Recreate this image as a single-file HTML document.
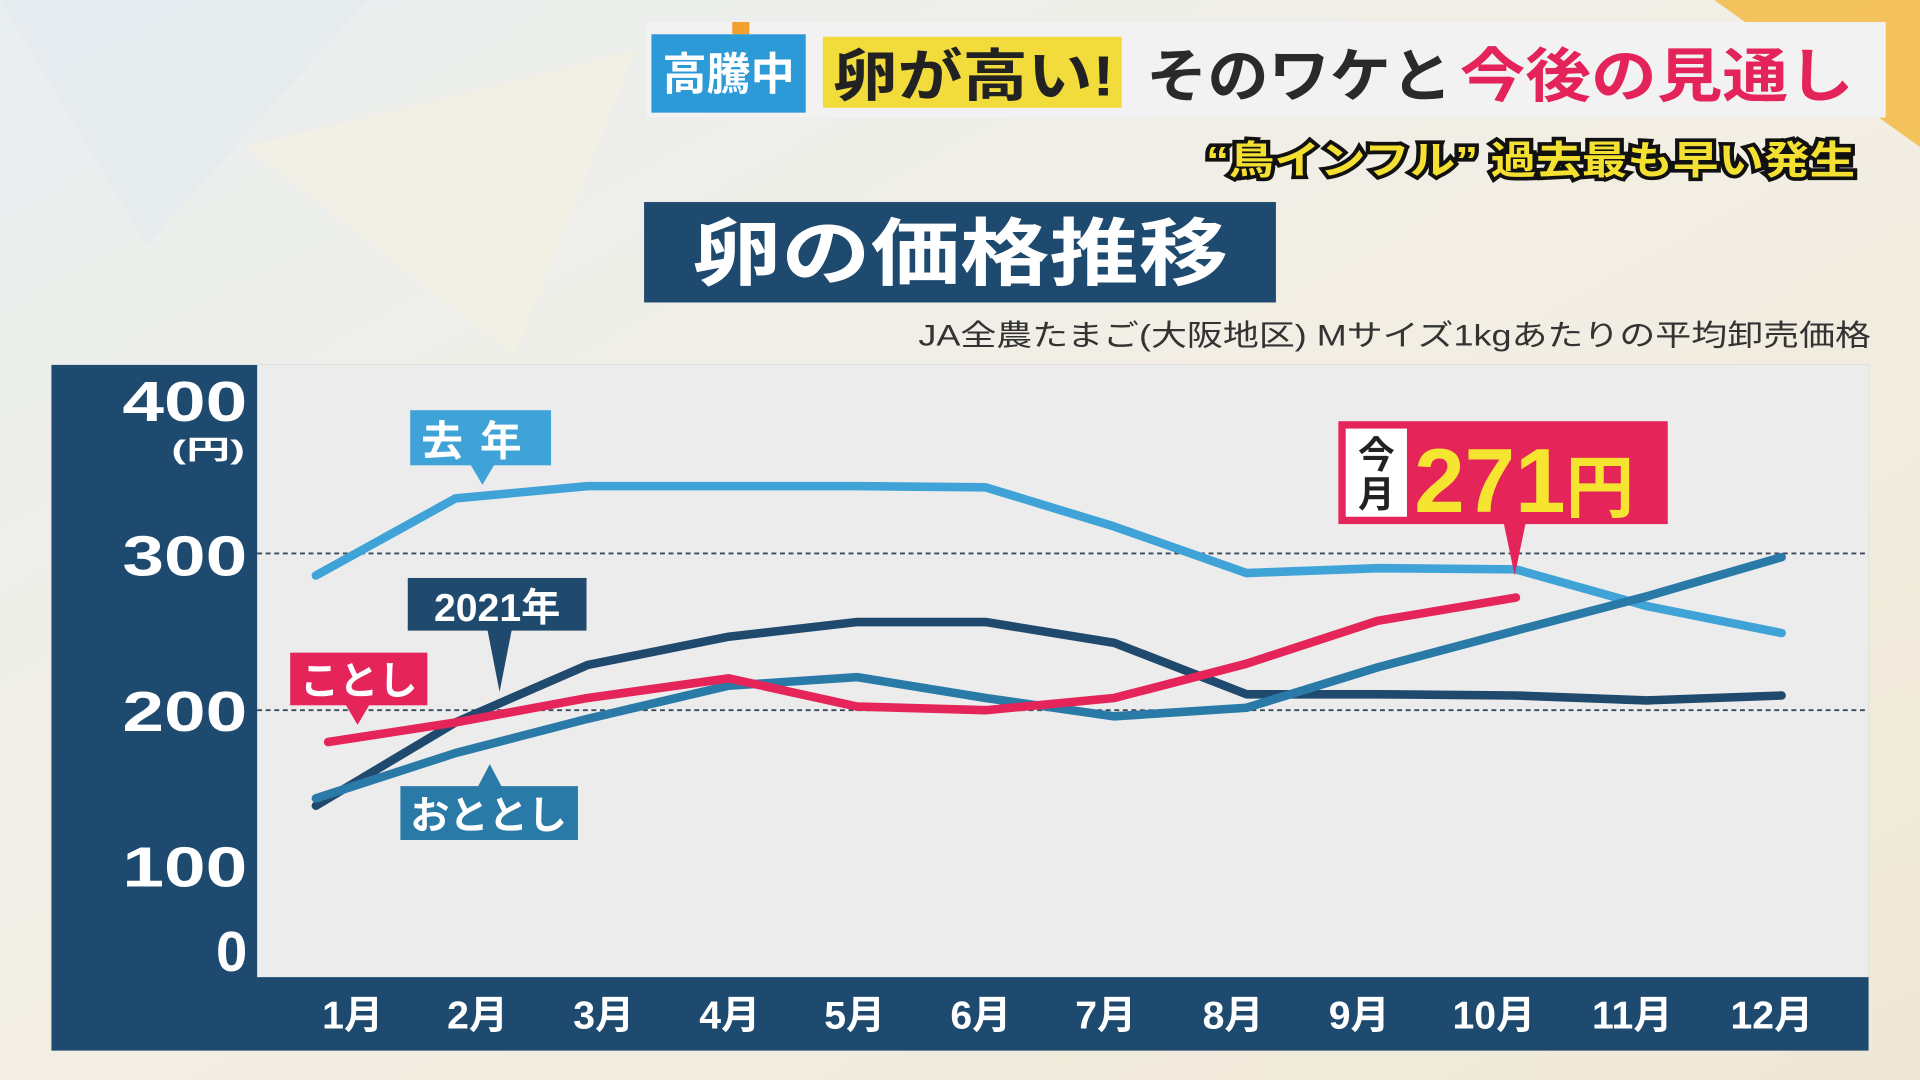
<!DOCTYPE html>
<html><head><meta charset="utf-8"><style>
html,body{margin:0;padding:0;width:1920px;height:1080px;overflow:hidden;background:#efebe2}
svg{display:block}
text{font-family:"Liberation Sans","Noto Sans CJK JP",sans-serif;font-weight:bold}
</style></head><body>
<svg width="1920" height="1080" viewBox="0 0 1568 882" xmlns="http://www.w3.org/2000/svg">
<defs>
<linearGradient id="bg" x1="0" y1="0" x2="1" y2="1">
<stop offset="0" stop-color="#e9eef0"/><stop offset="0.5" stop-color="#f2eee4"/><stop offset="1" stop-color="#f0e8d6"/>
</linearGradient>
</defs>
<rect width="1568" height="882" fill="url(#bg)"/>
<polygon points="0,0 300,0 120,200" fill="#e3eaee" opacity="0.6"/>
<polygon points="200,120 520,40 420,290" fill="#f4efe2" opacity="0.7"/>
<polygon points="1400,0 1568,0 1568,120" fill="#f3b63a" opacity="0.8"/>
<rect x="528" y="18" width="1012" height="78" fill="#f2f2f2"/>
<rect x="598" y="18" width="14" height="10" fill="#f2a030"/>
<rect x="532" y="28" width="126" height="64" fill="#2d9ad8"/>
<text x="595" y="73" font-size="36" fill="#fff" text-anchor="middle">高騰中</text>
<rect x="672" y="30" width="244" height="58" fill="#f2dc3c"/>
<text x="680" y="78" font-size="46" fill="#222" textLength="230" lengthAdjust="spacingAndGlyphs">卵が高い!</text>
<text x="936" y="79" font-size="48" fill="#2a2a2a" textLength="250" lengthAdjust="spacingAndGlyphs">そのワケと</text>
<text x="1192" y="79" font-size="48" fill="#e3235a" textLength="322" lengthAdjust="spacingAndGlyphs">今後の見通し</text>
<text x="985" y="142" font-size="32" fill="#f4e030" stroke="#111" stroke-width="6" paint-order="stroke" textLength="530" lengthAdjust="spacingAndGlyphs">“鳥インフル” 過去最も早い発生</text>
<rect x="526" y="165" width="516" height="82" fill="#1d4a6e"/>
<text x="565" y="228" font-size="60" fill="#fff" textLength="438" lengthAdjust="spacingAndGlyphs">卵の価格推移</text>
<text x="750" y="282" font-size="24" fill="#333" style="font-weight:normal" textLength="778" lengthAdjust="spacingAndGlyphs">JA全農たまご(大阪地区) Mサイズ1kgあたりの平均卸売価格</text>
<rect x="42" y="298" width="1484" height="560" fill="#1d4a6e"/>
<rect x="210" y="298" width="1316" height="500" fill="#ececec"/>
<line x1="210" y1="452" x2="1526" y2="452" stroke="#3a4a5a" stroke-width="1.5" stroke-dasharray="4,3"/>
<line x1="210" y1="580" x2="1526" y2="580" stroke="#3a4a5a" stroke-width="1.5" stroke-dasharray="4,3"/>
<g fill="#fff" font-size="46">
<text x="100" y="344" textLength="102" lengthAdjust="spacingAndGlyphs">400</text>
<text x="140" y="375" font-size="22" textLength="60" lengthAdjust="spacingAndGlyphs">(円)</text>
<text x="100" y="470" textLength="102" lengthAdjust="spacingAndGlyphs">300</text>
<text x="100" y="597" textLength="102" lengthAdjust="spacingAndGlyphs">200</text>
<text x="100" y="724" textLength="102" lengthAdjust="spacingAndGlyphs">100</text>
<text x="202" y="793" text-anchor="end">0</text>
</g>
<g fill="#fff" font-size="32" text-anchor="middle">
<text x="288" y="840">1月</text><text x="390" y="840">2月</text><text x="493" y="840">3月</text><text x="596" y="840">4月</text><text x="698" y="840">5月</text><text x="801" y="840">6月</text><text x="903" y="840">7月</text><text x="1007" y="840">8月</text><text x="1110" y="840">9月</text><text x="1220" y="840">10月</text><text x="1333" y="840">11月</text><text x="1447" y="840">12月</text>
</g>
<g fill="none" stroke-width="7" stroke-linejoin="round" stroke-linecap="round">
<polyline stroke="#3fa3d8" points="258,470 372,407 480,397 595,397 700,397 805,398 910,430 1018,468 1125,464 1238,465 1345,495 1455,517"/>
<polyline stroke="#1f4a6e" points="258,658 372,590 480,543 595,520 700,508 805,508 910,525 1018,567 1125,567 1238,568 1345,572 1455,568"/>
<polyline stroke="#2a7aa8" points="258,652 372,615 480,587 595,560 700,553 805,570 910,585 1018,578 1125,545 1238,515 1345,487 1455,455"/>
<polyline stroke="#e5245a" points="268,606 372,590 480,570 595,554 700,577 805,580 910,570 1018,542 1125,507 1238,488"/>
</g>
<rect x="335" y="335" width="115" height="45" fill="#3fa3d8"/>
<polygon points="384,379 404,379 394,396" fill="#3fa3d8"/>
<text x="392" y="372" font-size="34" fill="#fff" text-anchor="middle" letter-spacing="14">去年</text>
<rect x="333" y="472" width="146" height="43" fill="#1f4a6e"/>
<polygon points="398,514 418,514 408,565" fill="#1f4a6e"/>
<text x="406" y="507" font-size="32" fill="#fff" text-anchor="middle">2021年</text>
<rect x="237" y="533" width="112" height="43" fill="#e5245a"/>
<polygon points="282,575 302,575 292,592" fill="#e5245a"/>
<text x="293" y="567" font-size="32" fill="#fff" text-anchor="middle">ことし</text>
<rect x="327" y="642" width="145" height="44" fill="#2a7aa8"/>
<polygon points="390,643 410,643 400,624" fill="#2a7aa8"/>
<text x="399" y="677" font-size="32" fill="#fff" text-anchor="middle">おととし</text>
<rect x="1093" y="344" width="269" height="84" fill="#e5245a"/>
<polygon points="1228,427 1246,427 1237,470" fill="#e5245a"/>
<rect x="1099" y="350" width="50" height="72" fill="#fff"/>
<text x="1124" y="382" font-size="30" fill="#222" text-anchor="middle">今</text>
<text x="1124" y="414" font-size="30" fill="#222" text-anchor="middle">月</text>
<text x="1155" y="418" font-size="74" fill="#f6e530">271<tspan font-size="56">円</tspan></text>
</svg>
</body></html>
